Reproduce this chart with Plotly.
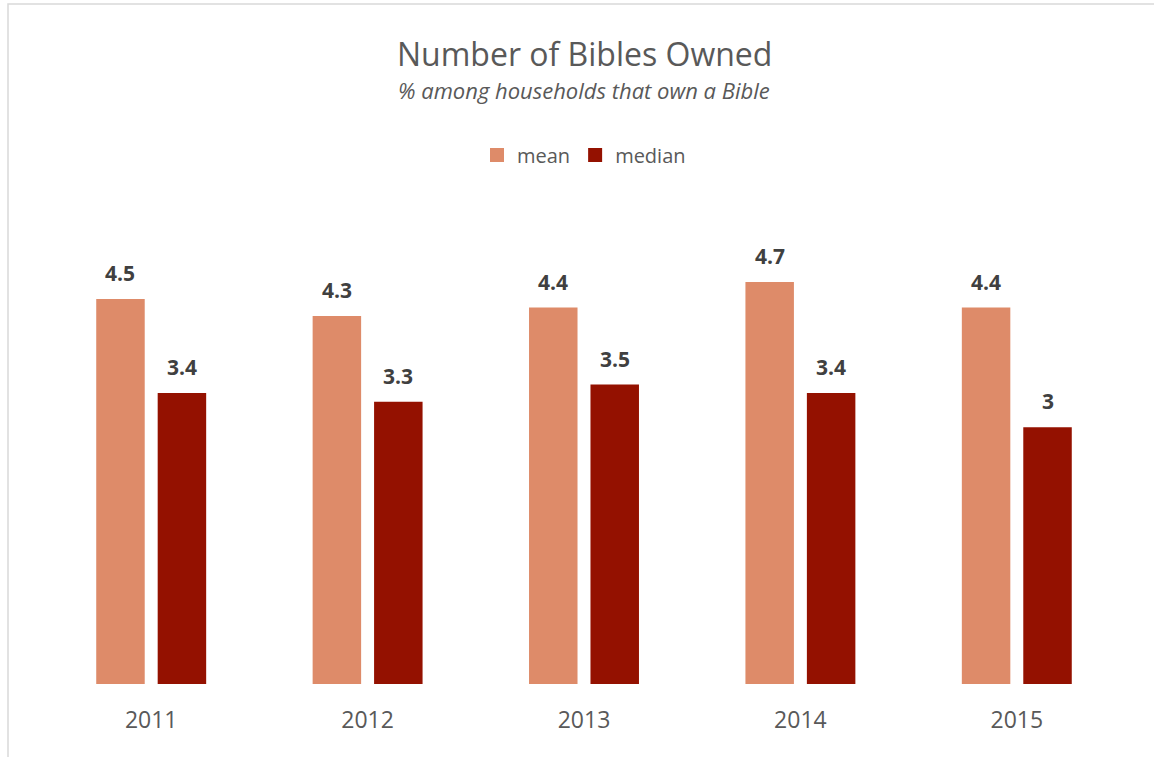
import plotly.graph_objects as go

years = ["2011", "2012", "2013", "2014", "2015"]
mean_vals = [4.5, 4.3, 4.4, 4.7, 4.4]
median_vals = [3.4, 3.3, 3.5, 3.4, 3.0]
series_names = ["mean", "median"]
colors = ["#DE8B69", "#941100"]

W, H = 1154, 757
ml, mr, mt, mb = 43, 29, 200, 73
plot_w = W - ml - mr
plot_h = H - mt - mb
ymax = 5.657
bargap = 0.432
bargroupgap = 0.211

fig = go.Figure()
for name, vals, col in zip(series_names, [mean_vals, median_vals], colors):
    fig.add_trace(go.Bar(x=years, y=vals, name=name, marker_color=col,
                         marker_line_width=0, hoverinfo="x+y", showlegend=False,
                         legendgroup=name))
# legend entries with larger square swatches
for name, col in zip(series_names, colors):
    fig.add_trace(go.Scatter(x=[None], y=[None], mode="markers", name=name,
                             marker=dict(symbol="square", size=14, color=col),
                             legendgroup=name, showlegend=True))

cat_px = plot_w / len(years)
slot_px = cat_px * (1 - bargap) / 2
annotations = []
for i, vals in enumerate([mean_vals, median_vals]):
    shift = (i - 0.5) * slot_px
    for idx, v in enumerate(vals):
        annotations.append(dict(x=idx, y=v, xref="x", yref="y", text="<b>%g</b>" % v,
                                showarrow=False, xshift=shift, yshift=26,
                                font=dict(family="Open Sans", size=21, color="#404040")))

annotations.append(dict(x=0.5, y=(H - mb - 53) / plot_h, xref="paper", yref="paper",
                        text="Number of Bibles Owned", showarrow=False, yanchor="middle",
                        font=dict(family="Open Sans", size=32, color="#595959")))
annotations.append(dict(x=0.5, y=(H - mb - 90) / plot_h, xref="paper", yref="paper",
                        text="<i>% among households that own a Bible</i>", showarrow=False,
                        yanchor="middle",
                        font=dict(family="Open Sans", size=22, color="#595959")))

fig.update_layout(
    width=W, height=H,
    margin=dict(l=ml, r=mr, t=mt, b=mb, pad=0),
    paper_bgcolor="white", plot_bgcolor="white",
    barmode="group", bargap=bargap, bargroupgap=bargroupgap,
    showlegend=True,
    legend=dict(orientation="h", x=0.5, xanchor="center",
                y=(H - mb - 155) / plot_h, yanchor="middle",
                font=dict(family="Open Sans", size=20, color="#595959"),
                itemwidth=30, bgcolor="rgba(0,0,0,0)"),
    xaxis=dict(type="category", range=[-0.5, len(years) - 0.5],
               showgrid=False, showline=False, zeroline=False, ticks="",
               tickfont=dict(family="Open Sans", size=23, color="#595959"),
               ticklabelstandoff=20),
    yaxis=dict(range=[0, ymax], visible=False, showgrid=False, zeroline=False),
    annotations=annotations,
    shapes=[dict(type="rect", xref="paper", yref="paper",
                 x0=(8 - ml) / plot_w, x1=1.2,
                 y0=-0.3, y1=(H - mb - 4) / plot_h,
                 line=dict(color="#D9D9D9", width=1.5), fillcolor="rgba(0,0,0,0)",
                 layer="below")],
    font=dict(family="Open Sans"),
)

fig.write_html("out.html")
